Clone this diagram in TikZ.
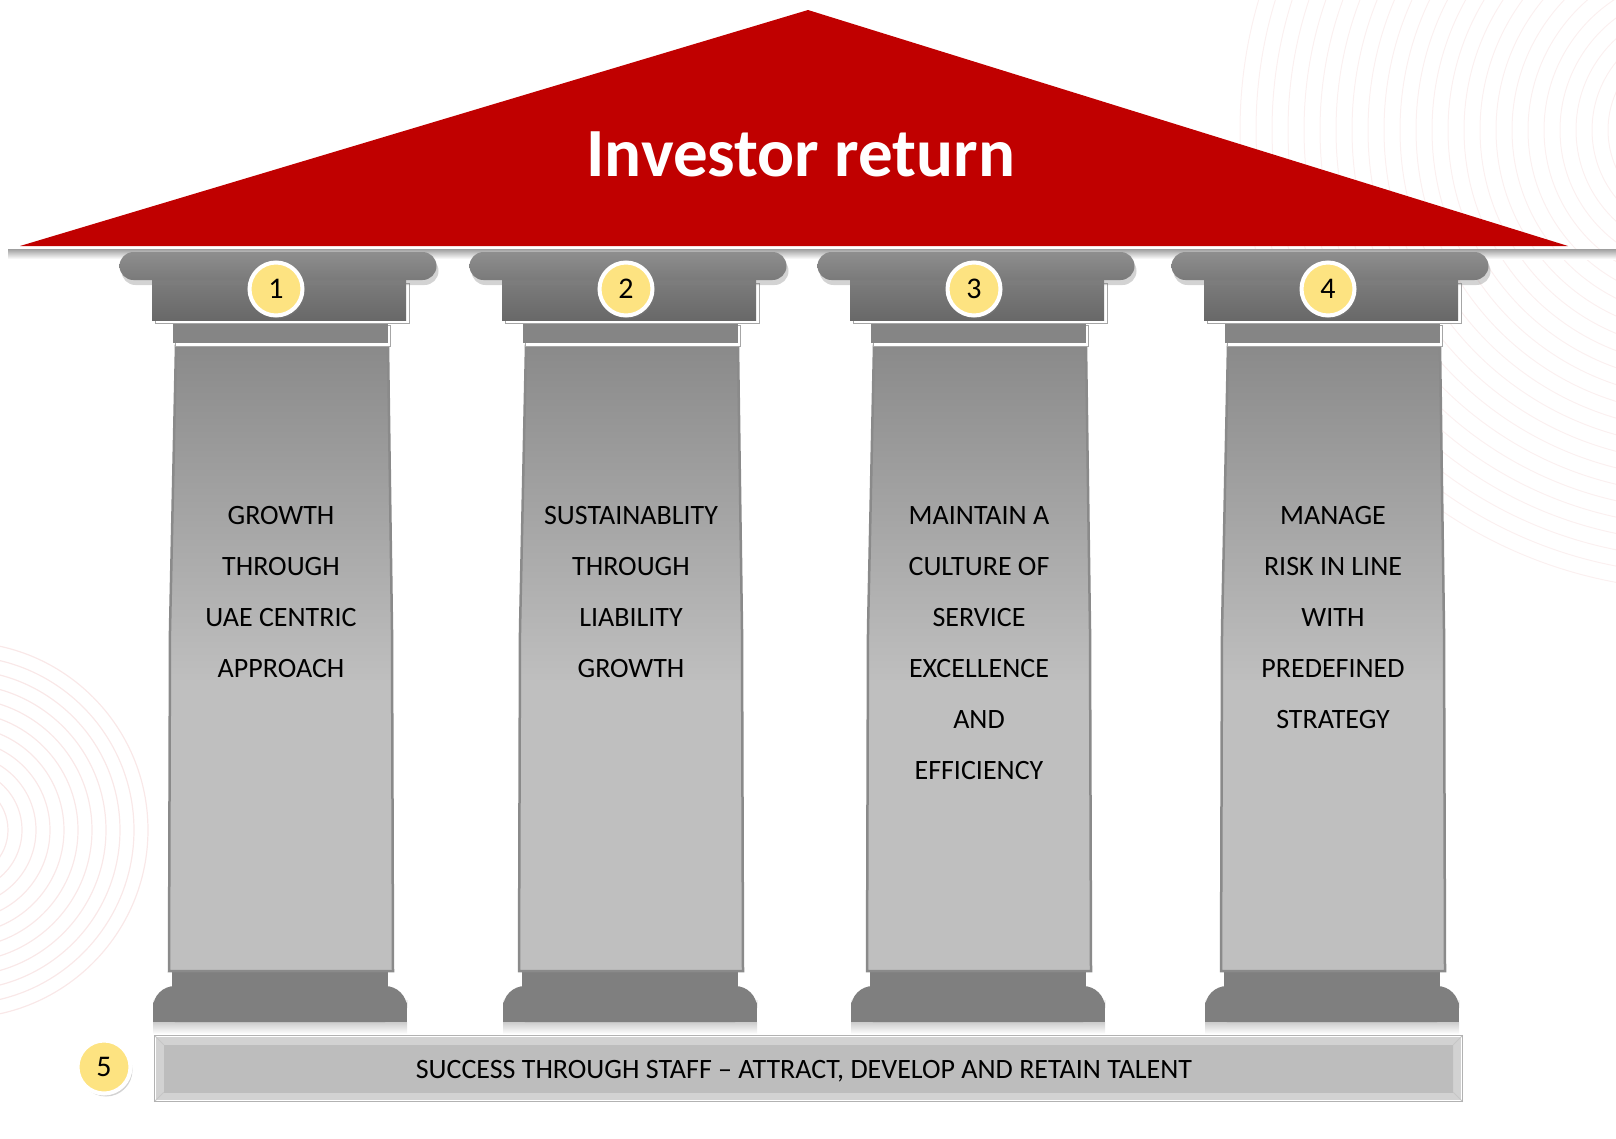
\documentclass[tikz,border=0pt]{standalone}
\usepackage{fontspec}
\setmainfont{Carlito}
\usetikzlibrary{calc,positioning,shadows}
\definecolor{roofred}{HTML}{C00000}
\definecolor{ballyellow}{HTML}{FDE381}
\definecolor{capA}{HTML}{8E8E8E}
\definecolor{capB}{HTML}{A9A9A9}
\definecolor{capC}{HTML}{7A7A7A}
\definecolor{abaA}{HTML}{7C7C7C}
\definecolor{abaB}{HTML}{939393}
\definecolor{abaC}{HTML}{686868}
\definecolor{neckgray}{HTML}{858585}
\definecolor{shaftlo}{HTML}{BFBFBF}
\definecolor{shafthi}{HTML}{8A8A8A}
\definecolor{basegray}{HTML}{7F7F7F}
\definecolor{barA}{HTML}{BDBDBD}
\definecolor{barB}{HTML}{A7A7A7}
\definecolor{barframe}{HTML}{D2D2D2}
\pgfdeclareverticalshading{shaftshade}{100bp}{color(0bp)=(shaftlo); color(25bp)=(shaftlo);
  color(48bp)=(shaftlo); color(75bp)=(shafthi); color(100bp)=(shafthi)}
\tikzset{whiteedge/.style={general shadow={fill=white, draw=gray!70, line width=1pt,
  shadow xshift=3pt, shadow yshift=-3pt}}}
\tikzstyle{capbar}  = [rectangle, rounded corners=14pt, minimum width=317pt, minimum height=28pt,
                       inner sep=0pt, top color=capA, middle color=capB, bottom color=capC,
                       drop shadow={shadow xshift=2pt, shadow yshift=-5pt, opacity=0.35}]
\tikzstyle{abacus}  = [rectangle, minimum width=254pt, minimum height=40pt, inner sep=0pt,
                       top color=abaA, middle color=abaB, bottom color=abaC, whiteedge]
\tikzstyle{neck}    = [rectangle, minimum width=215pt, minimum height=21pt, inner sep=0pt,
                       fill=neckgray, whiteedge]
\tikzstyle{plinth}  = [rectangle, minimum width=216pt, minimum height=15pt, inner sep=0pt,
                       fill=basegray]
\tikzstyle{basepart}= [rectangle, minimum width=254pt, minimum height=36pt, inner sep=0pt,
                       rounded corners=22pt, fill=basegray]
\tikzstyle{numball} = [circle, minimum size=53pt, inner sep=0pt, fill=ballyellow, draw=white,
                       line width=4pt, font=\fontsize{30pt}{30pt}\selectfont,
                       drop shadow={shadow xshift=2pt, shadow yshift=-3pt, opacity=0.35}]
\tikzstyle{pilltext}= [anchor=base, align=flush center, text width=210pt, inner sep=0pt,
                       font=\fontsize{28pt}{51pt}\selectfont]
\newcommand{\pillar}[3]{% #1 centre x, #2 number, #3 text
  \begin{scope}[shift={(#1,0)}]
    \fill[top color=gray!40, bottom color=white] (-127,1022) rectangle (127,1034);
    \node[basepart] (base#2) at (0,1004) {};
    \fill[basegray] (base#2.west) rectangle (base#2.south east);
    \node[plinth] (plinth#2) at (0,979) {};
    \path[draw=shafthi, line width=2.5pt, shading=shaftshade]
      (-104,345) -- (-110,630) -- (-111,971) -- (113,971) -- (112,630) -- (108,345) -- cycle;
    \coordinate (shaft#2) at (0,660);
    \node[neck] (neck#2) at (0,332.5) {};
    \node[abacus] (abacus#2) at (-1,300) {};
    \node[capbar] (cap#2) at (-2,266) {};
    \node[numball] (num#2) at (-4,289) {#2};
    \node[pilltext] (label#2) at (1,524) {#3};
  \end{scope}
}

\begin{document}
\begin{tikzpicture}[x=1pt, y=-1pt]
    % faint background texture
    \begin{scope}
        \clip (0,0) rectangle (1616,1138);
        \foreach \r in {20,34,...,200}
            \draw[roofred!9, line width=1.2pt] (-40,830) circle (\r);
        \foreach \r in {60,76,...,460}
            \draw[roofred!6, line width=1pt] (1700,130) circle (\r);
    \end{scope}

    % roof
    \coordinate (apex) at (808,10);
    \coordinate (eaveL) at (20,246);
    \coordinate (eaveR) at (1568,246);
    \fill[top color=gray!75, bottom color=white] (8,249) rectangle (1616,259);
    \fill[roofred] (apex) -- (eaveR) -- (eaveL) -- cycle;
    \node[anchor=base, text=white, font=\bfseries\fontsize{69pt}{69pt}\selectfont] (title)
        at (801,176) {Investor return};

    % pillars
    \pillar{280}{1}{GROWTH\\ THROUGH\\ UAE CENTRIC\\ APPROACH}
    \pillar{630}{2}{SUSTAINABLITY\\ THROUGH\\ LIABILITY\\ GROWTH}
    \pillar{978}{3}{MAINTAIN A\\ CULTURE OF\\ SERVICE\\ EXCELLENCE\\ AND\\ EFFICIENCY}
    \pillar{1332}{4}{MANAGE\\ RISK IN LINE\\ WITH\\ PREDEFINED\\ STRATEGY}

    % foundation
    \node[rectangle, minimum width=1307pt, minimum height=65pt, inner sep=0pt, fill=barframe,
          draw=white, line width=1.5pt] (found) at (808.5,1068.5) {};
    \node[rectangle, minimum width=1289pt, minimum height=47pt, inner sep=0pt,
          top color=barA, middle color=barB, bottom color=barA] (panel) at (808.5,1068.5) {};
    \foreach \c in {north west,north east,south west,south east}
        \draw[gray!45, line width=1pt] (found.\c) -- (panel.\c);
    \draw[gray!60, line width=1pt] (found.north west) rectangle (found.south east);
    \node[anchor=base, font=\fontsize{28pt}{28pt}\selectfont] (foundtext) at (804,1078)
        {SUCCESS THROUGH STAFF -- ATTRACT, DEVELOP AND RETAIN TALENT};
    \node[numball] (num5) at (104,1067) {5};

    \pgfresetboundingbox
    \useasboundingbox (0,0) rectangle (1616,1138);
\end{tikzpicture}
\end{document}
